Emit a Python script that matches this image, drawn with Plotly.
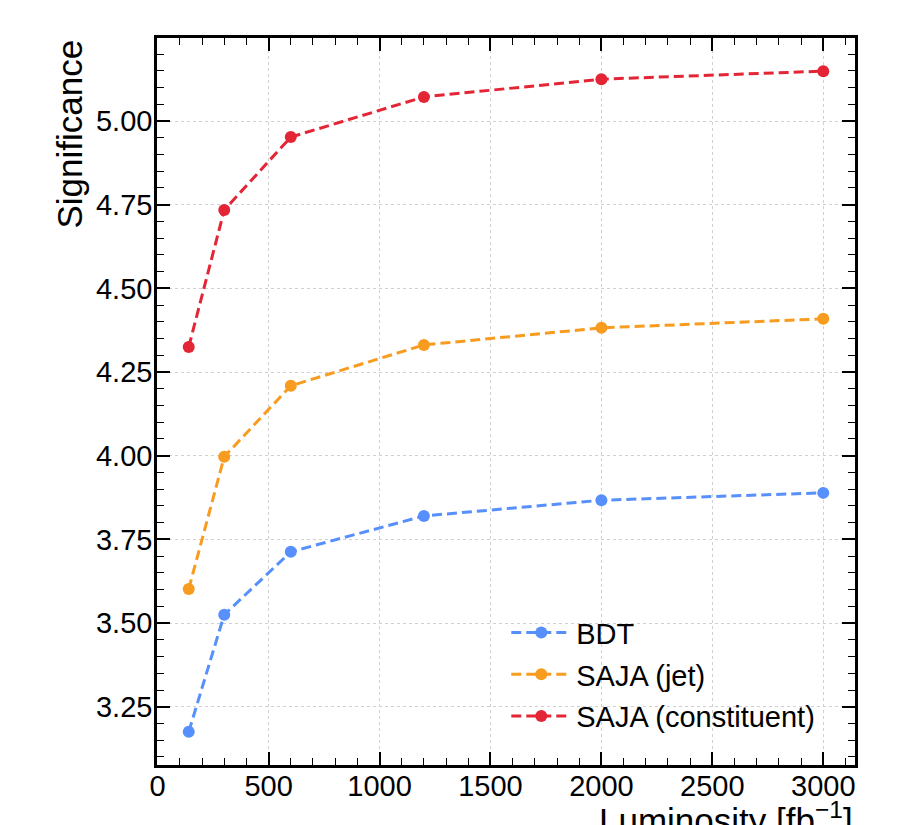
import plotly.graph_objects as go

luminosity = [140, 300, 600, 1200, 2000, 3000]
sig_bdt = [3.175, 3.525, 3.713, 3.820, 3.867, 3.889]
sig_saja_jet = [3.602, 3.997, 4.209, 4.331, 4.382, 4.409]
sig_saja_const = [4.325, 4.734, 4.952, 5.072, 5.125, 5.149]
series_names = ["BDT", "SAJA (jet)", "SAJA (constituent)"]
colors = ["#5790fc", "#f89c20", "#e42536"]

FONT = "Liberation Sans, Arial, Helvetica, sans-serif"
FS = 29
FS_TITLE = 35

fig = go.Figure()
for i, (name, ys) in enumerate(zip(series_names, [sig_bdt, sig_saja_jet, sig_saja_const])):
    fig.add_trace(go.Scatter(
        x=luminosity, y=ys, name=name, mode="lines+markers",
        legendgroup=f"g{i}",
        line=dict(color=colors[i], width=3, dash="10px,5px"),
        marker=dict(color=colors[i], size=12),
    ))

axis_common = dict(
    showline=True, linecolor="black", linewidth=2.5, mirror="ticks",
    ticks="inside", ticklen=13, tickwidth=1.5, tickcolor="black",
    showgrid=True, gridcolor="#d0d0d0", griddash="dot", gridwidth=1,
    zeroline=False,
    tickfont=dict(family=FONT, size=FS, color="black"),
)

fig.update_xaxes(
    range=[-3, 3143], dtick=500, tick0=0, ticklabelstandoff=-7,
    minor=dict(dtick=100, ticks="inside", ticklen=7, tickwidth=1.2, tickcolor="black", showgrid=False),
    **axis_common,
)
fig.update_yaxes(
    range=[3.076, 5.248], dtick=0.25, tick0=3.0, tickformat=".2f", ticklabelstandoff=-4,
    minor=dict(dtick=0.05, ticks="inside", ticklen=7, tickwidth=1.2, tickcolor="black", showgrid=False),
    **axis_common,
)

fig.add_annotation(
    text="Luminosity [fb<sup>−1</sup>]", xref="paper", yref="paper",
    x=1, y=-0.040, xanchor="right", yanchor="top", showarrow=False,
    font=dict(family=FONT, size=FS_TITLE, color="black"),
)
fig.add_annotation(
    text="Significance", xref="paper", yref="paper",
    x=-0.126, y=1.0, xanchor="center", yanchor="top", textangle=-90, showarrow=False,
    font=dict(family=FONT, size=FS_TITLE, color="black"),
)

fig.update_layout(
    width=913, height=825,
    margin=dict(l=149, r=66, t=30, b=68),
    plot_bgcolor="white", paper_bgcolor="white",
    showlegend=True,
    legend=dict(
        x=0.5004, y=0.217, xanchor="left", yanchor="top",
        bgcolor="rgba(0,0,0,0)", borderwidth=0,
        font=dict(family=FONT, size=FS, color="black"),
        tracegroupgap=1, itemwidth=60,
    ),
)

fig.write_html("out.html")
